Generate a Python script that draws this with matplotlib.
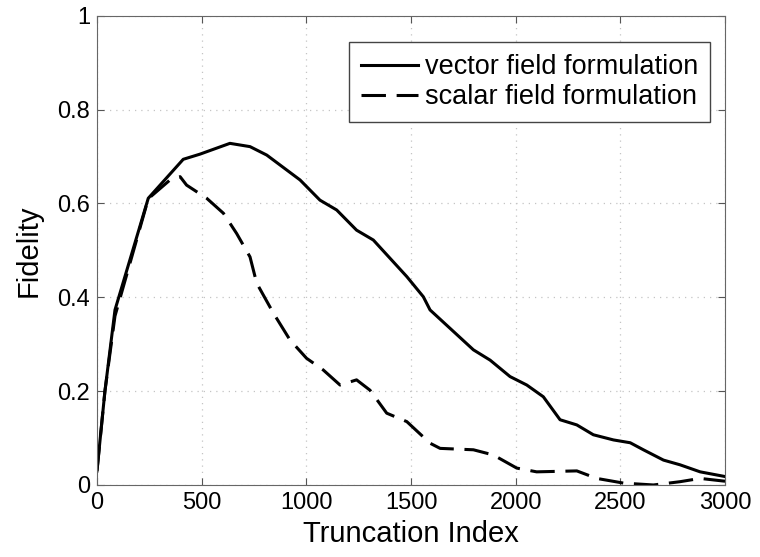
import matplotlib
matplotlib.use('Agg')
import matplotlib.pyplot as plt

plt.rcParams['font.family'] = ['Liberation Sans', 'DejaVu Sans']

# vector field formulation (solid)
vec_x = [0, 38, 86, 245, 412, 492, 635, 731, 811, 970, 1065, 1145, 1240, 1320,
         1480, 1559, 1591, 1798, 1878, 1973, 2053, 2132, 2212, 2292, 2371,
         2467, 2547, 2610, 2706, 2785, 2881, 3000]
vec_y = [0.03, 0.2, 0.373, 0.611, 0.694, 0.705, 0.728, 0.721, 0.703, 0.650,
         0.607, 0.586, 0.543, 0.522, 0.444, 0.401, 0.373, 0.288, 0.266, 0.231,
         0.213, 0.188, 0.139, 0.128, 0.107, 0.096, 0.090, 0.075, 0.053, 0.043,
         0.028, 0.018]

# scalar field formulation (dashed)
sca_x = [0, 38, 86, 245, 349, 397, 428, 476, 524, 604, 667, 731, 763, 843,
         922, 1001, 1081, 1161, 1240, 1304, 1384, 1480, 1591, 1639, 1798,
         1893, 2005, 2100, 2292, 2387, 2515, 2658, 2785, 2881, 3000]
sca_y = [0.03, 0.2, 0.36, 0.61, 0.650, 0.657, 0.639, 0.625, 0.611, 0.579,
         0.536, 0.486, 0.430, 0.366, 0.309, 0.270, 0.245, 0.213, 0.224, 0.202,
         0.153, 0.135, 0.089, 0.078, 0.075, 0.064, 0.036, 0.028, 0.030, 0.014,
         0.004, 0.0, 0.007, 0.014, 0.008]

x_ticks = [0, 500, 1000, 1500, 2000, 2500, 3000]
y_ticks = [0, 0.2, 0.4, 0.6, 0.8, 1]
y_tick_labels = ['0', '0.2', '0.4', '0.6', '0.8', '1']

fig = plt.figure(figsize=(7.6, 5.57), dpi=100)
ax = fig.add_axes([0.1276, 0.1293, 0.8264, 0.8425])

ax.plot(vec_x, vec_y, color='black', lw=2.2, label='vector field formulation')
ax.plot(sca_x, sca_y, color='black', lw=2.2, dashes=(8, 3.5), label='scalar field formulation')

ax.set_xlim(0, 3000)
ax.set_ylim(0, 1)
ax.set_xticks(x_ticks)
ax.set_yticks(y_ticks)
ax.set_yticklabels(y_tick_labels)
ax.tick_params(direction='in', top=True, right=True, labelsize=17, length=5,
               pad=5, color='#555555')
ax.grid(True, linestyle=(0, (1, 4)), color='#c4c4c4', lw=0.9)
for s in ax.spines.values():
    s.set_color('#666666')

ax.set_xlabel('Truncation Index', fontsize=21)
ax.set_ylabel('Fidelity', fontsize=21)
ax.xaxis.set_label_coords(0.5, -0.075)
ax.yaxis.set_label_coords(-0.086, 0.5)

leg = ax.legend(loc='upper right', bbox_to_anchor=(0.976, 0.944), borderaxespad=0,
                fontsize=19.5, fancybox=False, framealpha=1, edgecolor='#444444',
                handlelength=2.1, handletextpad=0.25, labelspacing=0.15, borderpad=0.45)
leg.get_frame().set_linewidth(1)

fig.savefig('out.png', dpi=100)
